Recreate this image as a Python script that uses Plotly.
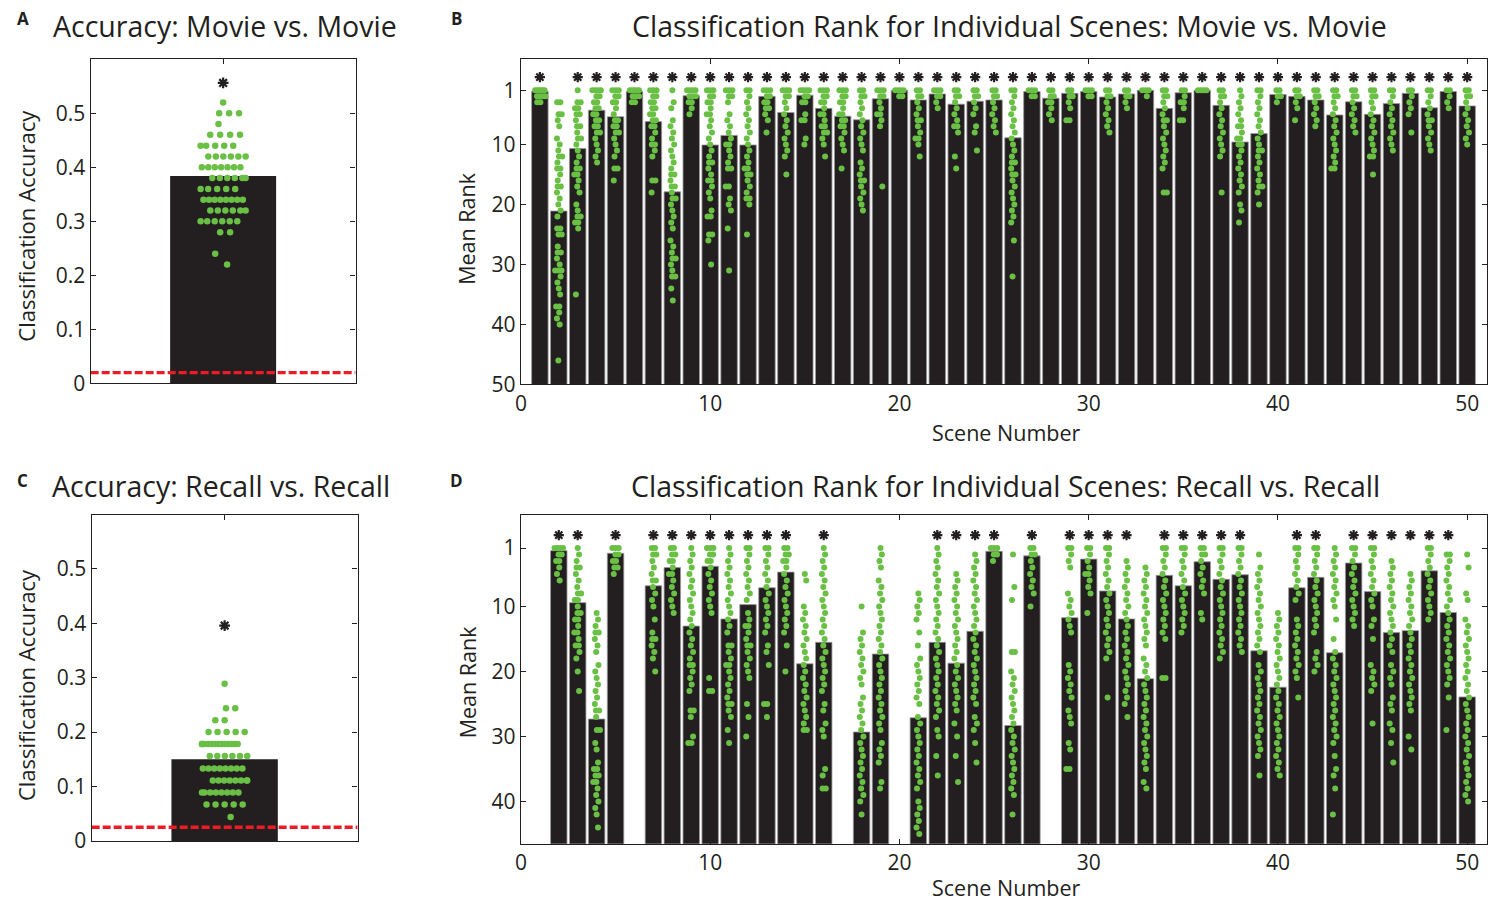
import plotly.graph_objects as go

INK = "#231f20"
GREEN = "#6abf45"
RED = "#ed1c24"
FONT = "Open Sans"

# ---------------- Panel A / C data ----------------
movie_acc_bar = 0.384
movie_acc_star = 0.556
movie_acc_chance = 0.02
movie_acc_dots = [0.52, 0.50, 0.50, 0.50, 0.48, 0.46, 0.46, 0.46, 0.46,
                  0.44, 0.44, 0.44, 0.44, 0.44, 0.42, 0.42, 0.42, 0.42, 0.42, 0.42,
                  0.40, 0.40, 0.40, 0.40, 0.40, 0.40, 0.40,
                  0.38, 0.38, 0.38, 0.38, 0.38, 0.38, 0.36, 0.36, 0.36, 0.36, 0.36,
                  0.34, 0.34, 0.34, 0.34, 0.34, 0.34, 0.34, 0.34,
                  0.32, 0.32, 0.32, 0.32, 0.32, 0.32, 0.30, 0.30, 0.30, 0.30, 0.30, 0.30,
                  0.28, 0.28, 0.24, 0.22]

recall_acc_bar = 0.150
recall_acc_star = 0.396
recall_acc_chance = 0.025
recall_acc_dots = [0.289, 0.244, 0.244, 0.222, 0.222,
                   0.200, 0.200, 0.200, 0.200, 0.200,
                   0.178, 0.178, 0.178, 0.178, 0.178, 0.178, 0.178, 0.178, 0.178, 0.178,
                   0.178, 0.178, 0.178, 0.178,
                   0.156, 0.156, 0.156, 0.156, 0.156, 0.156,
                   0.133, 0.133, 0.133, 0.133, 0.133, 0.133, 0.133, 0.133,
                   0.111, 0.111, 0.111, 0.111, 0.111, 0.111, 0.111, 0.111,
                   0.089, 0.089, 0.089, 0.089, 0.089, 0.089, 0.089, 0.089,
                   0.067, 0.067, 0.067, 0.067, 0.067, 0.044]

# ---------------- Panel B / D data ----------------
scenes = list(range(1, 51))

movie_rank = [1.16, 21.1, 10.7, 4.3, 5.4, 1.2, 6.2, 17.9, 1.9, 10.1,
              8.5, 10.1, 2.0, 4.7, 1.8, 4.0, 5.3, 5.9, 2.4, 1.0,
              2.6, 1.6, 3.3, 2.8, 2.6, 8.9, 1.2, 2.3, 1.5, 1.2,
              2.1, 1.6, 1.0, 4.0, 1.4, 1.0, 3.5, 9.6, 8.2, 1.7,
              2.0, 2.6, 5.1, 2.9, 5.0, 3.2, 1.5, 3.9, 1.2, 3.6]
movie_sig = [s for s in range(1, 51) if s != 2]

recall_rank = [None, 1.4, 9.4, 27.3, 1.8, None, 6.8, 4.0, 13.0, 3.8,
               11.9, 9.7, 7.1, 4.7, 18.8, 15.5, None, 29.3, 17.3, None,
               27.1, 15.5, 18.7, 13.8, 1.5, 28.3, 2.2, None, 11.7, 2.7,
               7.6, 11.9, 21.1, 5.2, 6.8, 3.1, 5.8, 5.1, 16.8, 22.4,
               7.1, 5.5, 17.1, 3.3, 7.7, 14.0, 13.7, 4.5, 10.9, 23.9]
recall_sig = [2, 3, 5, 7, 8, 9, 10, 11, 12, 13, 14, 16, 22, 23, 24, 25, 27,
              29, 30, 31, 32, 34, 35, 36, 37, 38, 41, 42, 44, 45, 46, 47, 48, 49]

movie_dots = [
    [1,1,1,1,1,1,2,2,2,2,3,3],
    [3,3,5,5,6,7,9,10,11,12,12,13,14,14,15,16,17,17,18,19,20,21,22,24,24,25,25,27,28,28,29,30,31,31,31,32,33,34,35,37,37,38,39,40,46],
    [1,3,3,4,4,5,5,6,7,7,8,9,9,10,11,12,13,14,14,15,15,16,17,18,20,21,22,22,23,23,24,35],
    [1,1,1,1,2,2,3,3,4,4,5,5,6,6,7,7,8,8,9,10,11,12,13],
    [1,1,1,2,2,3,3,4,5,6,6,7,7,8,8,9,10,11,12,14,14,16],
    [1,1,1,1,1,2,2,2,3,3],
    [1,1,1,2,2,3,3,4,4,5,5,6,6,7,7,8,9,10,10,11,12,16,16,18],
    [1,3,4,6,7,8,9,10,11,12,13,14,15,15,16,17,17,18,19,19,20,21,22,23,24,26,27,28,29,29,30,31,32,32,34,36],
    [1,1,1,1,2,2,2,3,3,4,5],
    [1,1,1,2,2,3,3,4,5,5,6,7,8,9,10,11,12,13,13,14,15,16,16,17,18,19,21,22,22,25,25,26,30],
    [1,1,1,2,2,3,5,6,7,8,9,10,10,11,12,13,14,14,17,17,19,20,21,24,31],
    [1,1,2,3,4,5,6,7,8,9,10,11,12,13,14,14,15,15,16,17,18,19,19,20,25],
    [1,1,1,2,2,3,3,4,4,5,6,8],
    [1,1,1,2,2,3,4,5,6,7,8,9,10,11,12,15],
    [1,1,1,1,2,2,3,3,5,6,6,9,10],
    [1,1,1,2,2,3,3,4,5,5,6,7,7,8,8,9,10,12],
    [1,1,1,2,2,3,3,4,5,5,6,6,7,7,8,9,10,11,14],
    [1,1,2,2,3,4,5,6,7,8,9,10,11,13,14,15,16,16,17,18,19,20,21],
    [1,1,1,2,2,3,4,5,5,6,7,17],
    [1,1,1,1,2,2],
    [1,1,2,2,3,4,5,6,6,7,8,9,9,10,12],
    [1,1,1,2,2,3,4],
    [1,1,2,2,3,4,5,6,7,7,8,12,14],
    [1,1,2,2,3,4,5,7,8,11],
    [1,1,2,2,3,4,5,6,7,8],
    [1,1,2,3,4,5,6,7,8,9,10,11,12,13,13,14,15,15,16,17,18,19,20,21,22,23,26,32],
    [1,1,1,2,2],
    [1,1,2,2,3,3,4,5,6],
    [1,1,2,2,3,4,6,6],
    [1,1,1,2,2],
    [1,1,2,2,3,4,5,6,7,8],
    [1,1,2,2,3,4],
    [1,1,1,2],
    [1,1,2,2,3,4,5,6,6,7,8,9,10,11,12,13,14,18,18],
    [1,1,2,3,3,4,6,6],
    [1,1,1,1],
    [1,1,2,2,3,4,5,6,7,8,9,10,11,12,18],
    [1,2,3,4,5,6,7,7,8,9,9,10,10,11,12,13,14,15,16,17,18,20,21,23],
    [1,1,2,3,4,5,6,7,8,9,10,11,11,12,13,14,15,16,17,17,18,20],
    [1,1,2,2,3],
    [1,1,2,2,3,4,6],
    [1,1,2,2,3,4,5,6,7],
    [1,1,2,2,3,4,5,6,7,8,9,10,11,12,13,14,14],
    [1,1,2,2,3,4,5,6,7,8],
    [1,1,2,2,3,4,5,6,7,8,9,10,11,12,12,15],
    [1,1,2,3,4,5,6,7,8,9,10,11],
    [1,1,2,3,4,5,8],
    [1,1,2,3,4,5,6,6,7,8,9,10,11],
    [1,1,2,3,4],
    [1,1,2,2,3,4,5,6,7,8,9,10],
]

recall_dots = [
    [],
    [1,1,1,1,2,2,3,3,4,5,6],
    [1,2,3,4,4,5,6,7,8,8,9,9,10,11,11,12,12,13,14,14,15,16,16,17,18,20,23],
    [11,12,13,14,14,15,16,17,19,20,21,22,23,24,25,26,26,27,29,29,31,32,34,35,35,36,36,37,37,38,39,40,41,42,44],
    [1,1,1,2,2,3,3,4,4,5],
    [],
    [1,1,2,2,3,4,5,6,6,7,8,9,10,12,14,15,15,16,17,18,20],
    [1,1,2,2,3,3,4,5,5,6,7,8,9,10,11],
    [1,2,3,4,5,6,7,8,9,10,11,12,13,14,15,16,17,18,19,19,20,21,22,23,26,26,27,30,31,31],
    [1,1,1,2,2,3,3,4,5,6,7,8,9,10,11,21,23,23],
    [1,2,3,4,5,6,7,8,9,10,11,12,13,14,16,16,17,18,19,19,20,21,22,23,24,25,25,26,27,29,31],
    [1,1,2,3,4,5,6,7,8,9,11,12,13,13,14,15,16,16,17,18,19,20,21,25,27,30],
    [1,1,2,3,4,5,6,7,8,9,10,11,12,13,14,16,17,19,25,25,27],
    [1,1,2,2,3,3,4,5,6,7,8,9,10,11,12,13,14,16,20],
    [5,6,10,11,12,13,14,15,16,17,18,19,20,21,22,23,24,25,26,27,28,29,29],
    [1,2,3,4,5,6,7,8,9,10,11,12,13,14,15,16,17,18,19,20,21,22,23,25,26,28,29,30,35,36,38,38],
    [],
    [10,14,15,16,17,18,19,20,21,22,24,25,26,27,28,29,30,31,32,33,34,35,36,37,38,39,40,42],
    [1,2,3,4,6,7,8,9,10,11,12,13,14,15,16,17,18,19,20,21,22,23,24,25,26,27,28,29,31,32,33,34,37,38],
    [],
    [8,9,10,11,12,14,16,18,19,20,21,22,23,24,25,27,28,29,30,31,32,33,34,35,36,37,38,40,41,42,43,44,45],
    [1,2,3,4,5,6,7,8,9,10,11,12,13,14,15,16,17,18,19,20,21,22,23,24,25,26,27,29,30,33,36],
    [5,6,7,8,9,10,11,12,13,14,15,16,17,18,19,20,21,22,23,24,25,26,28,30,33,37],
    [2,3,4,5,6,7,8,9,10,11,12,13,14,15,16,17,18,19,20,21,22,23,24,25,27,28,29,31,34],
    [1,1,1,2,2,3],
    [2,7,9,17,17,20,21,22,23,24,25,26,27,28,29,30,31,32,33,34,35,36,37,38,39,42],
    [1,1,2,2,3,4,5,6,7,8,10],
    [],
    [1,1,2,3,4,8,9,10,11,12,13,14,19,20,21,22,23,24,26,27,28,31,32,35,35],
    [1,1,2,3,4,5,5,6,7,8,11],
    [1,1,2,3,4,5,6,7,8,9,10,11,12,13,14,15,16,17,18,24],
    [3,4,5,6,7,8,9,10,11,12,13,14,15,16,17,18,19,20,21,22,23,24,25,27],
    [4,5,6,7,8,9,10,11,12,13,14,15,16,18,19,20,21,22,23,24,25,26,27,28,29,30,31,32,33,34,35,37,38],
    [1,1,2,3,4,5,6,7,8,9,10,11,12,13,14,15,21,21],
    [1,1,2,3,4,5,6,7,8,9,10,11,12,13,14],
    [1,1,2,2,3,4,5,6,7,8,11,12],
    [1,1,2,3,4,5,6,7,8,9,10,11,12,13,14,15,16,17,18],
    [1,1,2,3,4,5,6,7,8,9,10,11,12,13,14,15,16,17],
    [2,4,5,6,7,8,9,10,11,12,13,14,15,16,17,19,20,21,22,23,24,25,26,27,28,29,30,31,32,33,36],
    [11,12,13,14,15,16,17,18,19,20,21,22,23,24,25,26,27,28,29,30,31,32,33,34,35,36],
    [1,1,2,3,4,5,6,7,8,9,12,13,14,15,16,17,18,19,20,21,24],
    [1,1,2,3,4,5,6,7,8,9,10,11,12,13,14,17,18,19,20],
    [1,2,3,4,5,6,7,8,9,10,12,15,17,18,19,20,21,22,23,24,25,26,27,28,29,30,31,33,35,36,38,42],
    [1,1,2,3,4,5,6,7,8,9,10,11,12,13],
    [1,1,2,3,4,5,6,7,8,9,10,12,13,15,19,20,21,22,23,28],
    [3,4,5,6,7,8,9,10,11,12,13,14,15,16,17,19,20,21,22,24,25,26,28,29,31,34],
    [5,6,7,8,9,10,11,12,13,14,15,16,17,18,19,20,21,22,23,24,25,26,30,32],
    [1,1,2,3,4,5,6,7,8,9,10,11,12],
    [2,2,3,4,5,6,7,8,9,10,11,12,13,14,15,16,17,18,19,20,21,22,24,29],
    [2,4,8,9,12,13,14,15,16,17,18,19,20,21,22,23,24,25,26,27,28,29,30,31,32,33,34,35,36,37,38,39,40],
]

# ---------------- helpers (layout only) ----------------
W, H = 1502, 916
WOBBLE = [0.0, 0.45, -0.35, 0.15, -0.6, 0.3, -0.15, 0.6, -0.45]


def swarm(values, center, step, wobble, limit):
    """Spread dots horizontally: duplicates side by side, plus a small fixed wobble."""
    groups = []
    for v in values:
        if groups and groups[-1][0] == v:
            groups[-1][1] += 1
        else:
            groups.append([v, 1])
    xs, ys = [], []
    for gi, (v, n) in enumerate(groups):
        base = WOBBLE[gi % len(WOBBLE)] * wobble
        st = min(step, 2 * limit / max(n, 1))
        for j in range(n):
            off = base + (j - (n - 1) / 2) * st
            off = max(-limit, min(limit, off))
            xs.append(center + off)
            ys.append(v)
    return xs, ys


def px_x(p):
    return p / W


def px_y(p):
    return 1 - p / H


STAR = dict(symbol="asterisk-open", size=9, color=INK, line=dict(color=INK, width=2.2))

fig = go.Figure()

# ---- Panel A ----
fig.add_trace(go.Bar(x=[1], y=[movie_acc_bar], width=0.8, marker=dict(color=INK, line=dict(width=0)),
                     xaxis="x", yaxis="y", showlegend=False))
ax, ay = swarm(sorted(movie_acc_dots, reverse=True), 1, 0.075, 0.1, 0.17)
fig.add_trace(go.Scatter(x=ax, y=ay, mode="markers", marker=dict(color=GREEN, size=6.5),
                         xaxis="x", yaxis="y", showlegend=False))
fig.add_trace(go.Scatter(x=[0, 2], y=[movie_acc_chance] * 2, mode="lines",
                         line=dict(color=RED, width=3.4, dash="8px,3px"),
                         xaxis="x", yaxis="y", showlegend=False))
fig.add_trace(go.Scatter(x=[1], y=[movie_acc_star], mode="markers", marker=STAR,
                         xaxis="x", yaxis="y", showlegend=False))

# ---- Panel C ----
fig.add_trace(go.Bar(x=[1], y=[recall_acc_bar], width=0.8, marker=dict(color=INK, line=dict(width=0)),
                     xaxis="x3", yaxis="y3", showlegend=False))
cx, cy = swarm(sorted(recall_acc_dots, reverse=True), 1, 0.07, 0.1, 0.17)
fig.add_trace(go.Scatter(x=cx, y=cy, mode="markers", marker=dict(color=GREEN, size=6.5),
                         xaxis="x3", yaxis="y3", showlegend=False))
fig.add_trace(go.Scatter(x=[0, 2], y=[recall_acc_chance] * 2, mode="lines",
                         line=dict(color=RED, width=3.4, dash="8px,3px"),
                         xaxis="x3", yaxis="y3", showlegend=False))
fig.add_trace(go.Scatter(x=[1], y=[recall_acc_star], mode="markers", marker=STAR,
                         xaxis="x3", yaxis="y3", showlegend=False))


def rank_panel(ranks, sig, dots, xa, ya, floor, star_y):
    xs_b, ys_b, base_b = [], [], []
    for s, r in zip(scenes, ranks):
        if r is None:
            continue
        xs_b.append(s)
        ys_b.append(r - floor)
        base_b.append(floor)
    fig.add_trace(go.Bar(x=xs_b, y=ys_b, base=base_b, width=0.87,
                         marker=dict(color=INK, line=dict(color="#9a9898", width=0.8)),
                         xaxis=xa, yaxis=ya, showlegend=False))
    dx, dy = [], []
    for s, vals in zip(scenes, dots):
        x_, y_ = swarm(vals, s, 0.17, 0.16, 0.3)
        dx += x_
        dy += y_
    fig.add_trace(go.Scatter(x=dx, y=dy, mode="markers", marker=dict(color=GREEN, size=6),
                             xaxis=xa, yaxis=ya, showlegend=False, cliponaxis=True))
    fig.add_trace(go.Scatter(x=sig, y=[star_y] * len(sig), mode="markers",
                             marker=dict(STAR, size=8.5),
                             xaxis=xa, yaxis=ya, showlegend=False))


rank_panel(movie_rank, movie_sig, movie_dots, "x2", "y2", 50, -1.2)
rank_panel(recall_rank, recall_sig, recall_dots, "x4", "y4", 50, -1.0)

axis_common = dict(showline=True, linecolor=INK, linewidth=1.4, mirror="ticks", ticks="inside",
                   ticklen=5, tickwidth=1.2, tickcolor=INK, showgrid=False, zeroline=False,
                   tickfont=dict(family=FONT, size=21, color=INK), fixedrange=True)

acc_ticks = [0, 0.1, 0.2, 0.3, 0.4, 0.5]
acc_ticktext = ["0", "0.1", "0.2", "0.3", "0.4", "0.5"]

fig.update_layout(
    width=W, height=H, margin=dict(l=0, r=0, t=0, b=0),
    paper_bgcolor="white", plot_bgcolor="white", barmode="overlay",
    font=dict(family=FONT, color=INK),
    xaxis=dict(domain=[px_x(85), px_x(351)], range=[0, 2], tickvals=[1], ticktext=[""],
               anchor="y", **axis_common),
    yaxis=dict(domain=[px_y(389), px_y(60)], range=[0, 0.6], tickvals=acc_ticks, ticktext=acc_ticktext,
               anchor="x", **axis_common),
    xaxis3=dict(domain=[px_x(86), px_x(353)], range=[0, 2], tickvals=[1], ticktext=[""],
                anchor="y3", **axis_common),
    yaxis3=dict(domain=[px_y(853), px_y(522)], range=[0, 0.6], tickvals=acc_ticks, ticktext=acc_ticktext,
                anchor="x3", **axis_common),
    xaxis2=dict(domain=[px_x(517), px_x(1487)], range=[0, 51.05], tickvals=[0, 10, 20, 30, 40, 50],
                anchor="y2", **axis_common),
    yaxis2=dict(domain=[px_y(390), px_y(60)], range=[50, -4.2], tickvals=[1, 10, 20, 30, 40, 50],
                anchor="x2", **axis_common),
    xaxis4=dict(domain=[px_x(517), px_x(1487)], range=[0, 51.05], tickvals=[0, 10, 20, 30, 40, 50],
                anchor="y4", **axis_common),
    yaxis4=dict(domain=[px_y(856), px_y(522)], range=[46.5, -4.15], tickvals=[1, 10, 20, 30, 40],
                anchor="x4", **axis_common),
)


def label(text, x, y, size, bold=False, angle=0):
    fig.add_annotation(text=("<b>%s</b>" % text) if bold else text, x=px_x(x), y=px_y(y),
                       xref="paper", yref="paper", showarrow=False, xanchor="center", yanchor="middle",
                       textangle=angle, font=dict(family=FONT, size=size, color=INK))


label("A", 17, 19, 17, bold=True)
label("B", 452, 19, 17, bold=True)
label("C", 17, 487, 17, bold=True)
label("D", 452, 487, 17, bold=True)
label("Accuracy: Movie vs. Movie", 220, 26, 28.5)
label("Classification Rank for Individual Scenes: Movie vs. Movie", 1008, 26, 28.5)
label("Accuracy: Recall vs. Recall", 216, 493, 28.5)
label("Classification Rank for Individual Scenes: Recall vs. Recall", 1004, 493, 28.5)
label("Classification Accuracy", 20, 229, 22, angle=-90)
label("Classification Accuracy", 20, 695, 22, angle=-90)
label("Mean Rank", 463, 232, 21.5, angle=-90)
label("Mean Rank", 463, 692, 21.5, angle=-90)
label("Scene Number", 1005, 439, 21.5)
label("Scene Number", 1005, 900, 21.5)

css_fix = (
    "var s=document.createElement('style');"
    "s.textContent='html,body{margin:0;padding:0;overflow:hidden;width:1502px;height:916px;}"
    "body>div{display:block;height:916px;width:1502px;overflow:hidden;}';"
    "document.head.appendChild(s);"
)
fig.write_html("out.html", config={"displayModeBar": False}, post_script=css_fix)
